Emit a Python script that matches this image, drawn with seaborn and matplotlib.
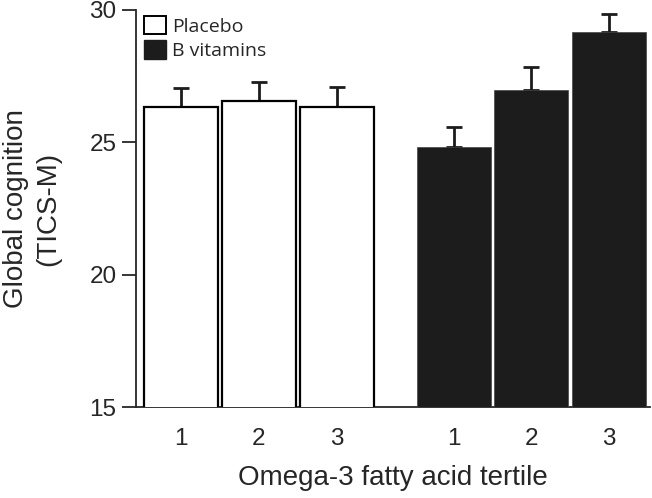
import pandas as pd
import numpy as np
import matplotlib.pyplot as plt
import matplotlib.patches as mpatches
import seaborn as sns

# Values
groups = ['Placebo', 'B vitamins']
tertiles = ['1', '2', '3']
placebo_mean = [26.35, 26.55, 26.35]
placebo_sem = [0.72, 0.72, 0.74]
bvit_mean = [24.82, 26.98, 29.17]
bvit_sem = [0.76, 0.87, 0.68]

rows = []
for g, means, sems in [('Placebo', placebo_mean, placebo_sem), ('B vitamins', bvit_mean, bvit_sem)]:
    for t, m, s in zip(tertiles, means, sems):
        rows.append({'Group': g, 'Tertile': t, 'Mean': m, 'SEM': s})
df = pd.DataFrame(rows)

# layout: leave a gap between the two treatment groups
gi = df['Group'].map({g: i for i, g in enumerate(groups)})
df['pos'] = df['Tertile'].astype(int) - 1 + gi * 3.5

sns.set_style('ticks')
plt.rcParams['font.family'] = ['Liberation Sans', 'DejaVu Sans']

fig = plt.figure(figsize=(6.52, 4.98), dpi=100)
ax = fig.add_axes([0.2086, 0.1827, 0.789, 0.7973])

palette = {'Placebo': 'white', 'B vitamins': '#1c1c1c'}
sns.barplot(data=df, x='pos', y='Mean', hue='Group', palette=palette,
            native_scale=True, dodge=False, width=0.95, errorbar=None,
            legend=False, ax=ax, zorder=3)

for patch, g in zip(ax.patches, df['Group']):
    if g == 'Placebo':
        patch.set_edgecolor('black')
        patch.set_linewidth(1.6)
    else:
        patch.set_edgecolor('#444444')
        patch.set_linewidth(0.5)

ax.errorbar(df['pos'], df['Mean'], yerr=[np.zeros(len(df)), df['SEM']],
            fmt='none', ecolor='#1c1c1c', elinewidth=2, capsize=5.5,
            capthick=2, zorder=2)

ax.set_ylim(15, 30)
ax.set_xlim(-0.58, 6.03)
ax.set_yticks([15, 20, 25, 30])
ax.set_xticks(df['pos'])
ax.set_xticklabels(df['Tertile'])
ax.tick_params(axis='y', labelsize=17.5, length=10, width=1.3, direction='out', pad=4)
ax.tick_params(axis='x', labelsize=17.5, length=0, pad=15)
sns.despine(ax=ax)
ax.spines['left'].set_linewidth(1.3)
ax.spines['bottom'].set_linewidth(1.3)

ax.set_ylabel('Global cognition\n(TICS-M)', fontsize=20, linespacing=1.35, labelpad=20)
ax.set_xlabel('Omega-3 fatty acid tertile', fontsize=20, labelpad=11)

handles = [mpatches.Patch(facecolor='white', edgecolor='black', linewidth=1.4, label='Placebo'),
           mpatches.Patch(facecolor='#1c1c1c', edgecolor='#1c1c1c', label='B vitamins')]
ax.legend(handles=handles, loc='upper left', bbox_to_anchor=(-0.01, 1.02), frameon=False,
          handlelength=1.1, handleheight=1.1, handletextpad=0.3, labelspacing=0.25,
          borderaxespad=0.3, prop={'family': 'Open Sans', 'size': 14})

fig.savefig('out.png', dpi=100)
